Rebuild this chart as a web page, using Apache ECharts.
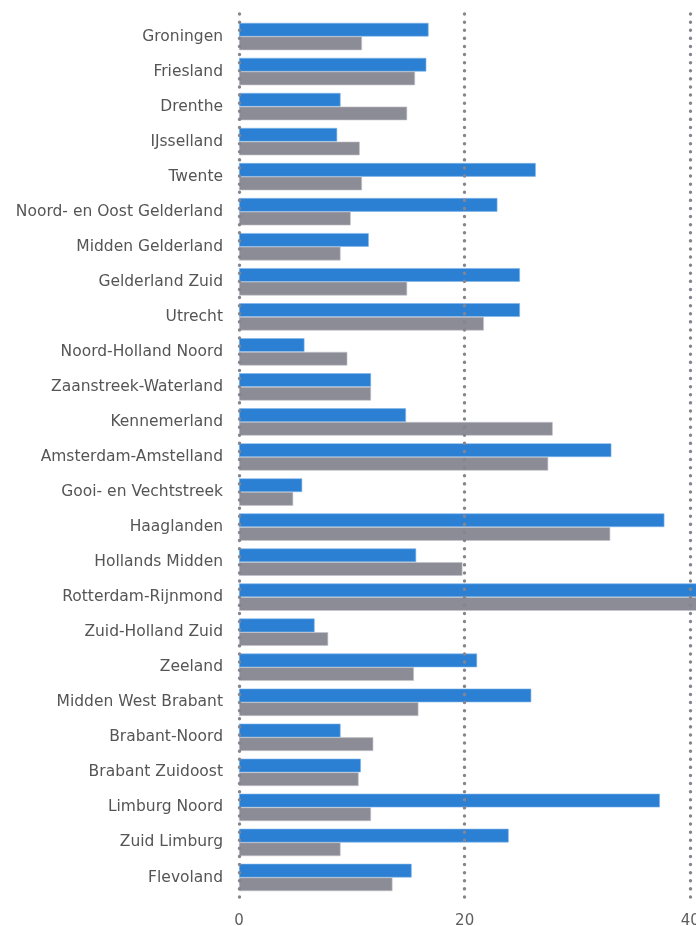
<!DOCTYPE html>
<html>
<head>
<meta charset="utf-8">
<script src="https://cdn.jsdelivr.net/npm/echarts@6/dist/echarts.min.js"></script>
<style>html,body{margin:0;padding:0;background:#fff;overflow:hidden;width:696px;height:926px;}#c{width:916px;height:926px;}</style>
</head>
<body>
<div id="c"></div>
<script>
const categories = ["Groningen","Friesland","Drenthe","IJsselland","Twente","Noord- en Oost Gelderland","Midden Gelderland","Gelderland Zuid","Utrecht","Noord-Holland Noord","Zaanstreek-Waterland","Kennemerland","Amsterdam-Amstelland","Gooi- en Vechtstreek","Haaglanden","Hollands Midden","Rotterdam-Rijnmond","Zuid-Holland Zuid","Zeeland","Midden West Brabant","Brabant-Noord","Brabant Zuidoost","Limburg Noord","Zuid Limburg","Flevoland"];
const blueValues = [16.8,16.6,9.0,8.7,26.3,22.9,11.5,24.9,24.9,5.8,11.7,14.8,33.0,5.6,37.7,15.7,45,6.7,21.1,25.9,9.0,10.8,37.3,23.9,15.3];
const grayValues = [10.9,15.6,14.9,10.7,10.9,9.9,9.0,14.9,21.7,9.6,11.7,27.8,27.4,4.8,32.9,19.8,44,7.9,15.5,15.9,11.9,10.6,11.7,9.0,13.6];
const xTicks = [0, 20, 40, 60];

const chart = echarts.init(document.getElementById('c'), null, {renderer: 'canvas'});
const xMin = xTicks[0], xMax = xTicks[xTicks.length - 1], xInt = xTicks[1] - xTicks[0];
chart.setOption({
  animation: false,
  grid: [
    {left: 239, right: 0, top: 19, bottom: 31, outerBoundsMode: 'none', containLabel: false},
    {left: 239, right: 0, top: 14, bottom: 21, outerBoundsMode: 'none', containLabel: false}
  ],
  xAxis: [
    {gridIndex: 0, type: 'value', min: xMin, max: xMax, interval: xInt,
     axisLine: {show: false}, axisTick: {show: false}, axisLabel: {show: false}, splitLine: {show: false}},
    {gridIndex: 1, type: 'value', min: xMin, max: xMax, interval: xInt, z: 5,
     axisLine: {show: false}, axisTick: {show: false},
     axisLabel: {show: true, color: '#5e5e5e', fontFamily: 'DejaVu Sans', fontSize: 15, margin: 9},
     splitLine: {show: true, lineStyle: {color: '#85858f', width: 3.4, type: [0.1, 8], cap: 'round'}}}
  ],
  yAxis: [
    {gridIndex: 0, type: 'category', data: categories, inverse: true,
     axisLine: {show: false}, axisTick: {show: false},
     axisLabel: {color: '#555555', fontFamily: 'DejaVu Sans', fontSize: 15.5, margin: 16}},
    {gridIndex: 1, type: 'category', data: categories, show: false}
  ],
  series: [
    {type: 'bar', xAxisIndex: 0, yAxisIndex: 0, data: blueValues, barGap: '0%', barCategoryGap: '22%',
     itemStyle: {color: '#2b80d4', borderColor: '#7fb6ea', borderWidth: 0.6}},
    {type: 'bar', xAxisIndex: 0, yAxisIndex: 0, data: grayValues, barGap: '0%', barCategoryGap: '22%',
     itemStyle: {color: '#8b8c95', borderColor: '#c2c3c9', borderWidth: 0.6}}
  ]
});
</script>
</body>
</html>
